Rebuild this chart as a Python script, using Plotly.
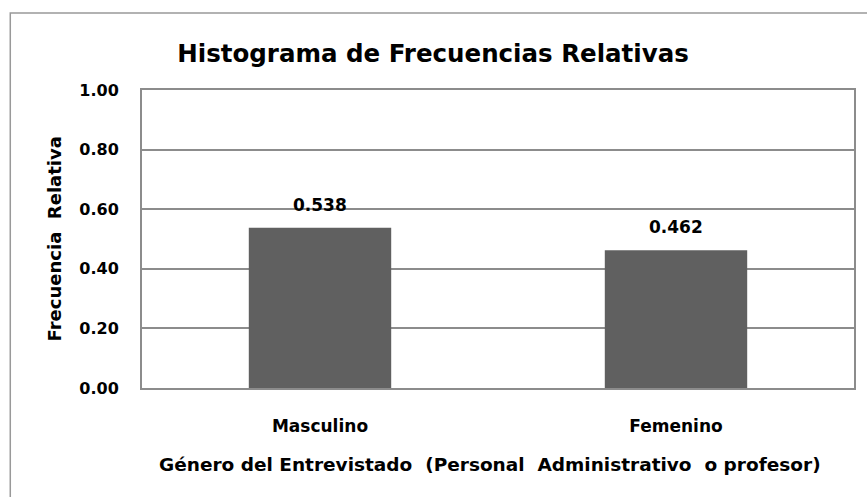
import plotly.graph_objects as go

categorias = ['Masculino', 'Femenino']
frecuencia_relativa = [0.538, 0.462]
etiquetas = ['0.538', '0.462']
y_ticks = [0, 0.2, 0.4, 0.6, 0.8, 1.0]
y_tick_labels = ['0.00', '0.20', '0.40', '0.60', '0.80', '1.00']

FONT = 'DejaVu Sans'
GRID = '#8c8c8c'

fig = go.Figure(go.Bar(
    x=categorias,
    y=frecuencia_relativa,
    marker_color='#606060',
    marker_line_width=0,
))

# value labels above each bar
for c, v, t in zip(categorias, frecuencia_relativa, etiquetas):
    fig.add_annotation(x=c, y=v, text='<b>%s</b>' % t, showarrow=False,
                       yanchor='middle', yshift=23,
                       font=dict(size=17, color='black', family=FONT))

# x axis title
fig.add_annotation(x=0.489, xref='paper', y=-0.258, yref='paper', yanchor='middle',
                   text='<b>Género del Entrevistado  (Personal  Administrativo  o profesor)</b>',
                   showarrow=False, font=dict(size=18.5, color='black', family=FONT))

# y axis title
fig.add_annotation(x=-0.123, xref='paper', y=0.5, yref='paper', textangle=-90,
                   xanchor='center', yanchor='middle',
                   text='<b>Frecuencia  Relativa</b>',
                   showarrow=False, font=dict(size=18, color='black', family=FONT))

# outer chart border (only top/left visible in the picture)
fig.add_shape(type='rect', xref='paper', yref='paper', x0=-0.185, x1=1.2, y0=-0.5, y1=1.258,
              line=dict(color='#999999', width=1.5), layer='below')

fig.update_layout(
    width=867, height=497,
    margin=dict(l=142, r=11, t=90, b=109),
    paper_bgcolor='white', plot_bgcolor='white',
    title=dict(text='<b>Histograma de Frecuencias Relativas</b>', x=433 / 867, xref='container',
               xanchor='center', y=1 - 53 / 497, yref='container', yanchor='middle',
               font=dict(size=24.5, color='black', family=FONT)),
    bargap=0.6,
    showlegend=False,
    font=dict(family=FONT, color='black'),
)

fig.update_xaxes(showline=True, linecolor=GRID, linewidth=2, mirror=True,
                 ticks='', ticklabelstandoff=22,
                 tickfont=dict(size=17, family=FONT, color='black'),
                 tickprefix='<b>', ticksuffix='</b>')
fig.update_yaxes(range=[0, 1], tickvals=y_ticks, ticktext=['<b>%s</b>' % t for t in y_tick_labels],
                 showgrid=True, gridcolor=GRID, gridwidth=1.5,
                 showline=True, linecolor=GRID, linewidth=2, mirror=True,
                 zeroline=False, ticks='', ticklabelstandoff=18,
                 tickfont=dict(size=16, family=FONT, color='black'))

fig.write_html('out.html', config={'displayModeBar': False},
               post_script="document.body.style.margin='0';")
